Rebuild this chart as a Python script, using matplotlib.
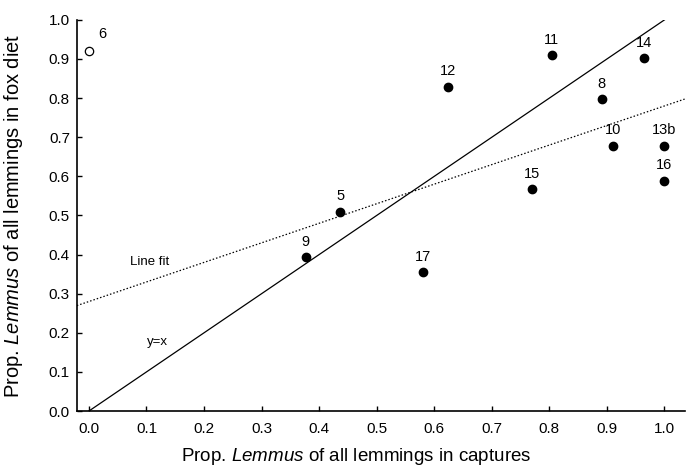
import matplotlib
matplotlib.use("Agg")
import matplotlib.pyplot as plt

plt.rcParams['font.family'] = ['Liberation Sans', 'DejaVu Sans']
plt.rcParams['mathtext.fontset'] = 'custom'
plt.rcParams['mathtext.it'] = 'Liberation Sans:italic'
plt.rcParams['mathtext.rm'] = 'Liberation Sans'

# proportion of Lemmus in captures (x) and in fox diet (y), per site
sites = ['5', '9', '12', '11', '15', '17', '10', '13b', '16', '14', '8']
captures = [0.437, 0.377, 0.624, 0.804, 0.769, 0.581, 0.911, 1.0, 1.0, 0.965, 0.891]
diet = [0.510, 0.393, 0.829, 0.910, 0.567, 0.355, 0.678, 0.678, 0.589, 0.902, 0.798]

# site 6 shown as open symbol
open_site = '6'
open_capture = 0.0
open_diet = 0.921

# linear fit (intercept, slope)
fit_a, fit_b = 0.28, 0.50

fig = plt.figure(figsize=(6.86, 4.73), dpi=100)
ax = fig.add_axes([0.112, 0.131, 0.886, 0.827])

ax.set_xlim(-0.021, 1.035)
ax.set_ylim(0, 1.0)

xs = [-0.021, 1.035]
ax.plot(xs, [fit_a + fit_b * x for x in xs], color='black', lw=0.9,
        linestyle=(0, (1.2, 1.6)))
ax.plot([0, 1.0], [0, 1.0], color='black', lw=0.9)

ax.plot(captures, diet, 'o', color='black', ms=6, clip_on=False)
ax.plot([open_capture], [open_diet], 'o', mfc='white', mec='black', mew=0.9,
        ms=6, clip_on=False)

for s, x, y in zip(sites, captures, diet):
    ax.annotate(s, (x, y), xytext=(0, 6), textcoords='offset points',
                ha='center', va='bottom', fontsize=10.5)
ax.annotate(open_site, (open_capture, open_diet), xytext=(7, 7),
            textcoords='offset points', ha='left', va='bottom', fontsize=10.5)

ax.text(0.106, 0.382, 'Line fit', ha='center', va='center', fontsize=9.5)
ax.text(0.119, 0.177, 'y=x', ha='center', va='center', fontsize=9.5)

ax.set_xticks([i / 10 for i in range(11)])
ax.set_yticks([i / 10 for i in range(11)])
ax.xaxis.set_major_formatter(matplotlib.ticker.FormatStrFormatter('%.1f'))
ax.yaxis.set_major_formatter(matplotlib.ticker.FormatStrFormatter('%.1f'))
ax.tick_params(direction='in', length=3.5, width=1, labelsize=11)
ax.tick_params(axis='x', pad=8)
ax.tick_params(axis='y', pad=5)

for side in ['top', 'right']:
    ax.spines[side].set_visible(False)
for side in ['left', 'bottom']:
    ax.spines[side].set_linewidth(1.2)

ax.set_xlabel('Prop. $\\mathit{Lemmus}$ of all lemmings in captures', fontsize=13.5,
              va='center')
ax.set_ylabel('Prop. $\\mathit{Lemmus}$ of all lemmings in fox diet', fontsize=14.5,
              va='center')
ax.xaxis.set_label_coords(0.46, -0.115)
ax.yaxis.set_label_coords(-0.104, 0.5)

fig.savefig('out.png', dpi=100)
